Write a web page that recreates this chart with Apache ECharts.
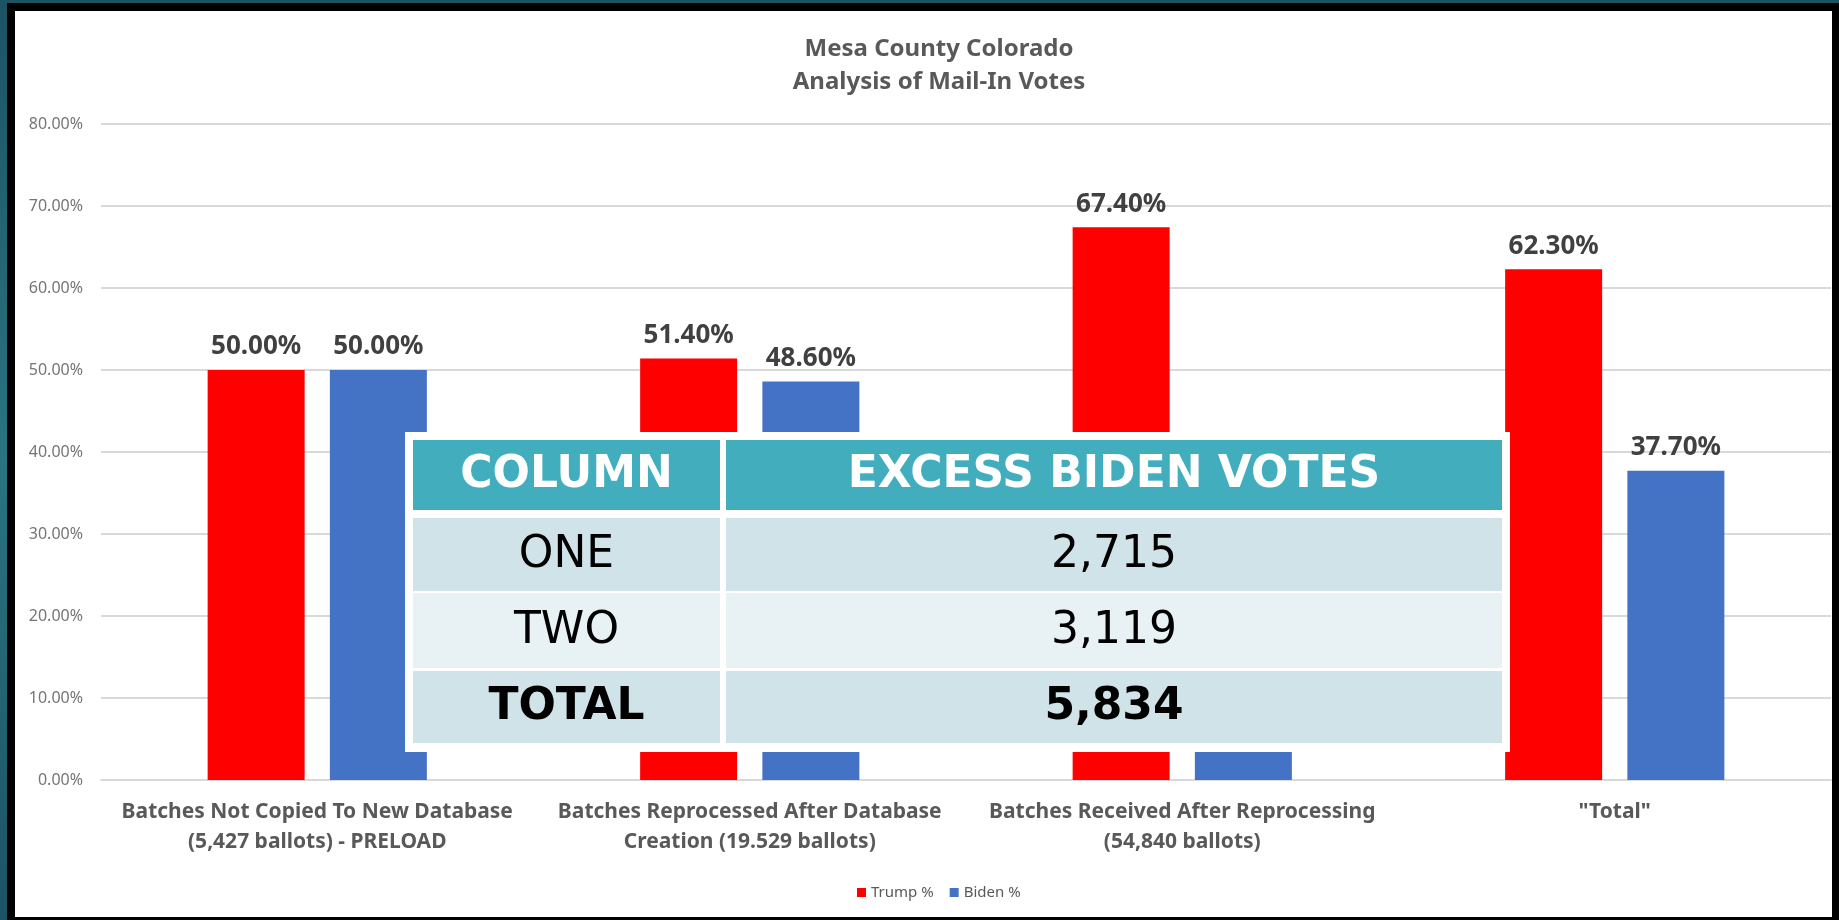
<!DOCTYPE html>
<html>
<head>
<meta charset="utf-8">
<title>Mesa County Colorado - Analysis of Mail-In Votes</title>
<script src="https://cdn.jsdelivr.net/npm/echarts@6/dist/echarts.min.js"></script>
<style>
  html, body { margin: 0; padding: 0; background: #1f5b6b; }
  #chart { width: 1839px; height: 920px; }
</style>
</head>
<body>
<div id="chart"></div>
<script>
// chart data
var categories = [
    'Batches Not Copied To New Database\n(5,427 ballots) - PRELOAD',
    'Batches Reprocessed After Database\nCreation (19.529 ballots)',
    'Batches Received After Reprocessing\n(54,840 ballots)',
    '"Total"'
];
var trumpPct = [50.0, 51.4, 67.4, 62.3];
var bidenPct = [50.0, 48.6, 32.6, 37.7];
var seriesNames = ['Trump %', 'Biden %'];

// overlay table data
var tableHead = ['COLUMN', 'EXCESS BIDEN VOTES'];
var tableLabels = ['ONE', 'TWO', 'TOTAL'];
var tableValues = ['2,715', '3,119', '5,834'];

var font = '"Noto Sans", "Open Sans", sans-serif';
var tableFont = '"DejaVu Sans", sans-serif';
var chart = echarts.init(document.getElementById('chart'));

// frame: teal background, black border, white sheet
var graphics = [
    {type: 'rect', z: -10, silent: true, shape: {x: 0, y: 0, width: 1839, height: 920},
     style: {fill: new echarts.graphic.LinearGradient(0, 0, 0, 1, [
        {offset: 0, color: '#1c5363'}, {offset: 0.5, color: '#2a7482'}, {offset: 1, color: '#1c5363'}])}},
    {type: 'rect', z: -9, silent: true, shape: {x: 7, y: 3, width: 1832, height: 917}, style: {fill: '#000'}},
    {type: 'rect', z: -8, silent: true, shape: {x: 15, y: 11, width: 1817, height: 906}, style: {fill: '#fff'}}
];

// table pasted over the chart
var tbl = {x: 405, y: 432, w: 1105, h: 320};
var colX = [[413, 307], [726, 776]];
var rowY = [[440, 70], [518, 73], [593, 75], [671, 72]];
var rowFill = ['#42aebd', '#d0e3e8', '#e8f1f4', '#d0e3e8'];
graphics.push({type: 'rect', z: 100, silent: true,
    shape: {x: tbl.x, y: tbl.y, width: tbl.w, height: tbl.h}, style: {fill: '#fff'}});
rowY.forEach(function (r, i) {
    colX.forEach(function (c, j) {
        var txt = i === 0 ? tableHead[j] : (j === 0 ? tableLabels[i - 1] : tableValues[i - 1]);
        var bold = i === 0 || i === 3;
        graphics.push({type: 'rect', z: 101, silent: true,
            shape: {x: c[0], y: r[0], width: c[1], height: r[1]}, style: {fill: rowFill[i]}});
        graphics.push({type: 'text', z: 102, silent: true,
            x: c[0] + c[1] / 2, y: r[0] + r[1] / 2 + 1,
            style: {text: txt, fill: i === 0 ? '#fff' : '#000', font: (bold ? 'bold ' : '') + '44px ' + tableFont,
                    textAlign: 'center', textVerticalAlign: 'middle'}});
    });
});

function pctLabel(p) {
    return p.value.toFixed(2) + '%';
}

option = {
    animation: false,
    title: {
        text: 'Mesa County Colorado\nAnalysis of Mail-In Votes',
        left: 934,
        top: 28,
        textAlign: 'center',
        textStyle: {fontFamily: font, fontSize: 24, fontWeight: 'bold', color: '#595959', lineHeight: 33}
    },
    legend: {
        data: seriesNames,
        left: 852,
        top: 880,
        icon: 'rect',
        itemWidth: 9,
        itemHeight: 9,
        itemGap: 16,
        textStyle: {fontFamily: font, fontSize: 15, color: '#595959'}
    },
    grid: {left: 101, right: 8, top: 124, bottom: 140},
    xAxis: {
        type: 'category',
        data: categories,
        axisLine: {lineStyle: {color: '#d9d9d9', width: 2}},
        axisTick: {show: false},
        axisLabel: {fontFamily: font, fontSize: 21, fontWeight: 'bold', color: '#595959', lineHeight: 30, margin: 17, interval: 0}
    },
    yAxis: {
        type: 'value',
        min: 0,
        max: 80,
        interval: 10,
        axisLabel: {fontFamily: font, fontSize: 16, color: '#757575', margin: 18,
            formatter: function (v) { return v.toFixed(2) + '%'; }},
        splitLine: {lineStyle: {color: '#d9d9d9', width: 2}}
    },
    series: [{
        name: seriesNames[0],
        type: 'bar',
        data: trumpPct,
        barWidth: 97,
        barGap: '26%',
        itemStyle: {color: '#ff0000'},
        label: {show: true, position: 'top', distance: 10, formatter: pctLabel,
            fontFamily: font, fontSize: 26, fontWeight: 'bold', color: '#404040'}
    }, {
        name: seriesNames[1],
        type: 'bar',
        data: bidenPct,
        barWidth: 97,
        itemStyle: {color: '#4472c4'},
        label: {show: true, position: 'top', distance: 10, formatter: pctLabel,
            fontFamily: font, fontSize: 26, fontWeight: 'bold', color: '#404040'}
    }],
    graphic: graphics
};

chart.setOption(option);
</script>
</body>
</html>
